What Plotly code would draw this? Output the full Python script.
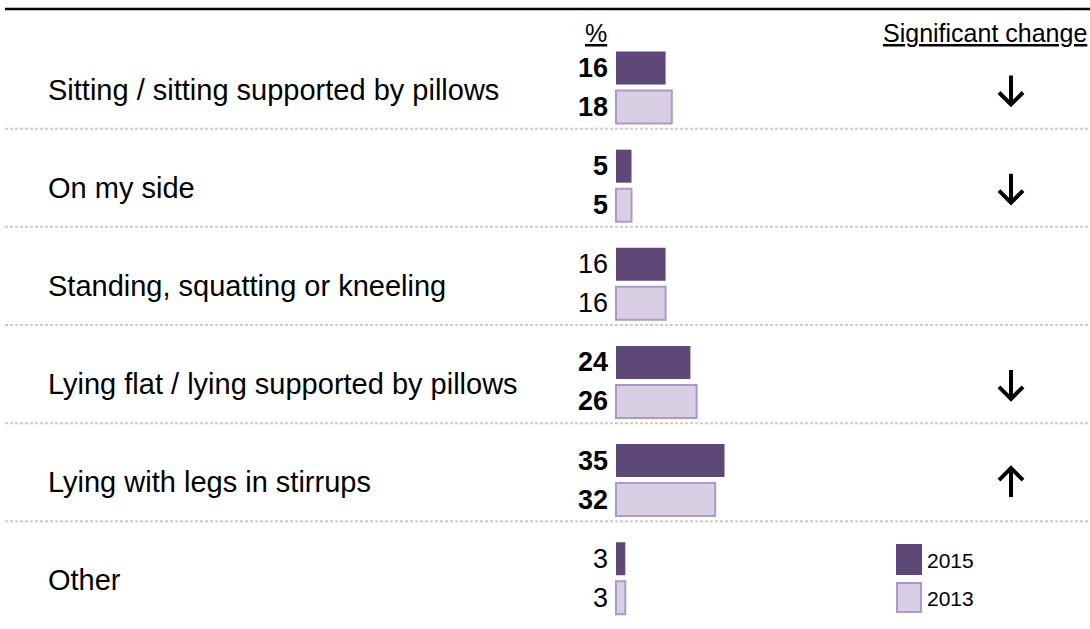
import plotly.graph_objects as go

categories = [
    "Sitting / sitting supported by pillows",
    "On my side",
    "Standing, squatting or kneeling",
    "Lying flat / lying supported by pillows",
    "Lying with legs in stirrups",
    "Other",
]
values_2015 = [16, 5, 16, 24, 35, 3]
values_2013 = [18, 5, 16, 26, 32, 3]
significant = [True, True, False, True, True, False]
change = ["down", "down", "", "down", "up", ""]
series_names = ["2015", "2013"]

W, H = 1090, 629
C2015 = "#5E4877"
C2013 = "#D9CFE4"
C2013_LINE = "#AC99C9"
FONT = "Liberation Sans, Arial, sans-serif"

fig = go.Figure()
fig.add_trace(go.Bar(
    y=categories, x=values_2015, orientation="h", name=series_names[0],
    marker=dict(color=C2015, line=dict(color=C2015, width=0)), showlegend=False,
))
fig.add_trace(go.Bar(
    y=categories, x=values_2013, orientation="h", name=series_names[1],
    marker=dict(color=C2013, line=dict(color=C2013_LINE, width=2)), showlegend=False,
))

ARROW_DOWN = "M0,12 L0,-17 M-12,-5 L0,-17 L12,-5"
ARROW_UP = "M0,-17 L0,12 M-12,0 L0,12 L12,0"

ann = []
shapes = []
for i, cat in enumerate(categories):
    ann.append(dict(x=46 / W, xref="paper", y=cat, yref="y", text=cat, showarrow=False,
                    xanchor="left", yanchor="middle", yshift=-2,
                    font=dict(family=FONT, size=29, color="#000")))
    for v, ys in ((values_2015[i], 19.5), (values_2013[i], -19.5)):
        t = f"<b>{v}</b>" if significant[i] else str(v)
        ann.append(dict(x=0, xref="x", y=cat, yref="y", text=t, showarrow=False,
                        xanchor="right", yanchor="middle", xshift=-6, yshift=ys,
                        font=dict(family=FONT, size=27, color="#000")))
    if change[i]:
        shapes.append(dict(type="path", xref="paper", yref="y",
                           xsizemode="pixel", ysizemode="pixel",
                           xanchor=1011 / W, yanchor=cat,
                           path=ARROW_DOWN if change[i] == "down" else ARROW_UP,
                           line=dict(color="#000", width=4)))
    if i < len(categories) - 1:
        shapes.append(dict(type="line", xref="paper", yref="y", x0=5 / W, x1=1,
                           y0=i + 0.42, y1=i + 0.42,
                           line=dict(color="#CCCCCC", width=2, dash="3px,2px")))

# header
ann.append(dict(x=596 / W, xref="paper", y=1 - 33 / H, yref="paper", text="<u>%</u>",
                showarrow=False, xanchor="center", yanchor="middle",
                font=dict(family=FONT, size=25, color="#000")))
ann.append(dict(x=1089 / W, xref="paper", y=1 - 33 / H, yref="paper",
                text="<u>Significant change</u>", showarrow=False, xanchor="right",
                yanchor="middle", font=dict(family=FONT, size=25, color="#000")))
shapes.append(dict(type="line", xref="paper", yref="paper", x0=5 / W, x1=1,
                   y0=1 - 9 / H, y1=1 - 9 / H, line=dict(color="#000", width=2.5)))

# legend
for name, col, lc, ytop in ((series_names[0], C2015, C2015, 545), (series_names[1], C2013, C2013_LINE, 583)):
    shapes.append(dict(type="rect", xref="paper", yref="paper",
                       x0=897 / W, x1=921 / W, y0=1 - ytop / H, y1=1 - (ytop + 29) / H,
                       fillcolor=col, line=dict(color=lc, width=2)))
    ann.append(dict(x=925 / W, xref="paper", y=1 - (ytop + 15) / H, yref="paper", text=name,
                    showarrow=False, xanchor="left", yanchor="middle",
                    font=dict(family=FONT, size=21, color="#000")))

px_per_unit = 3.1
x0_px = 616
fig.update_layout(
    width=W, height=H, margin=dict(l=0, r=0, t=0, b=0),
    paper_bgcolor="white", plot_bgcolor="white",
    barmode="group", bargap=0.205, bargroupgap=0.154,
    xaxis=dict(range=[-x0_px / px_per_unit, (W - x0_px) / px_per_unit], visible=False,
               domain=[0, 1], fixedrange=True),
    yaxis=dict(type="category", range=[(H - 87.5) / 98.15, -87.5 / 98.15], visible=False,
               domain=[0, 1], fixedrange=True),
    annotations=ann, shapes=shapes, showlegend=False,
)
fig.write_html("out.html")
